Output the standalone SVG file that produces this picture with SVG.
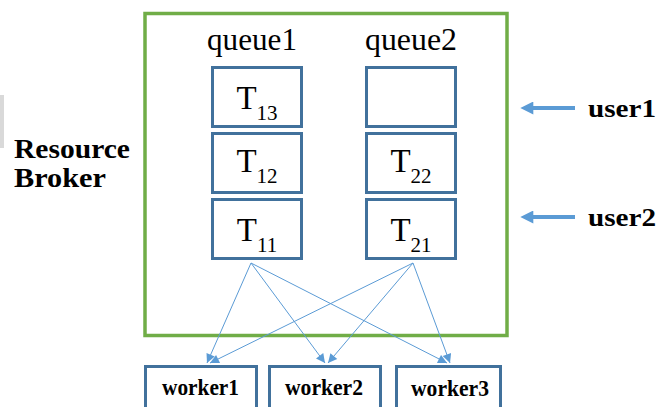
<svg xmlns="http://www.w3.org/2000/svg" width="660" height="407" viewBox="0 0 660 407">
<defs>
<style>
.q{fill:#fff;stroke:#41719C;stroke-width:3}
.t{font-family:"Liberation Serif","Times New Roman",serif;fill:#000}
.tl{font-size:33px;text-anchor:middle}
.sub{font-size:21px}
.b{font-weight:bold}
.c{stroke:#5B9BD5;stroke-width:1;fill:none}
.u{stroke:#5B9BD5;stroke-width:4;fill:none}
</style>
<marker id="ah" viewBox="0 0 10 10" refX="10" refY="5" markerWidth="11" markerHeight="9" markerUnits="userSpaceOnUse" orient="auto"><path d="M0,0L10,5L0,10z" fill="#5B9BD5"/></marker>
<marker id="uh" viewBox="0 0 10 10" refX="1" refY="5" markerWidth="14" markerHeight="13" markerUnits="userSpaceOnUse" orient="auto"><path d="M0,0L10,5L0,10z" fill="#5B9BD5"/></marker>
</defs>
<rect x="0" y="95" width="4" height="53" fill="#d9d9d9"/>
<g id="broker">
<rect x="145" y="13.5" width="362" height="322" fill="none" stroke="#70AD47" stroke-width="3.5"/>
<text class="t b" x="14" y="158" font-size="27" textLength="116" lengthAdjust="spacingAndGlyphs">Resource</text>
<text class="t b" x="14" y="187" font-size="27" textLength="92" lengthAdjust="spacingAndGlyphs">Broker</text>
<text class="t" x="207" y="50" font-size="31" textLength="90" lengthAdjust="spacingAndGlyphs">queue1</text>
<text class="t" x="365" y="50" font-size="31" textLength="92" lengthAdjust="spacingAndGlyphs">queue2</text>
</g>
<g id="T13"><rect class="q" x="212.5" y="67.5" width="89" height="59"/><text class="t tl" x="257" y="109">T<tspan class="sub" dy="11">13</tspan></text></g>
<g id="T12"><rect class="q" x="212.5" y="133.5" width="89" height="59"/><text class="t tl" x="257" y="172">T<tspan class="sub" dy="11">12</tspan></text></g>
<g id="T11"><rect class="q" x="212.5" y="199.5" width="89" height="59"/><text class="t tl" x="257" y="241">T<tspan class="sub" dy="11">11</tspan></text></g>
<g id="Q2empty"><rect class="q" x="366.5" y="67.5" width="89" height="59"/></g>
<g id="T22"><rect class="q" x="366.5" y="133.5" width="89" height="59"/><text class="t tl" x="411" y="172">T<tspan class="sub" dy="11">22</tspan></text></g>
<g id="T21"><rect class="q" x="366.5" y="199.5" width="89" height="59"/><text class="t tl" x="411" y="241">T<tspan class="sub" dy="11">21</tspan></text></g>
<g id="worker1"><rect class="q" x="145.5" y="366.5" width="111" height="42"/><text class="t b" x="162" y="395" font-size="23" textLength="77" lengthAdjust="spacingAndGlyphs">worker1</text></g>
<g id="worker2"><rect class="q" x="269.5" y="366.5" width="111" height="42"/><text class="t b" x="285" y="395" font-size="23" textLength="78" lengthAdjust="spacingAndGlyphs">worker2</text></g>
<g id="worker3"><rect class="q" x="396.5" y="366.5" width="104" height="42"/><text class="t b" x="411" y="396" font-size="23" textLength="78" lengthAdjust="spacingAndGlyphs">worker3</text></g>
<g id="user1"><text class="t b" x="588" y="117" font-size="26" textLength="68" lengthAdjust="spacingAndGlyphs">user1</text></g>
<g id="user2"><text class="t b" x="588" y="226" font-size="26" textLength="68" lengthAdjust="spacingAndGlyphs">user2</text></g>
<g id="connectors">
<line class="c" x1="251" y1="263" x2="207" y2="363" marker-end="url(#ah)"/>
<line class="c" x1="251" y1="263" x2="325" y2="363" marker-end="url(#ah)"/>
<line class="c" x1="251" y1="263" x2="447" y2="363" marker-end="url(#ah)"/>
<line class="c" x1="413" y1="263" x2="210" y2="363" marker-end="url(#ah)"/>
<line class="c" x1="413" y1="263" x2="328" y2="363" marker-end="url(#ah)"/>
<line class="c" x1="413" y1="263" x2="450" y2="363" marker-end="url(#ah)"/>
<line class="u" x1="575" y1="108" x2="532" y2="108" marker-end="url(#uh)"/>
<line class="u" x1="575" y1="217" x2="532" y2="217" marker-end="url(#uh)"/>
</g>
</svg>
